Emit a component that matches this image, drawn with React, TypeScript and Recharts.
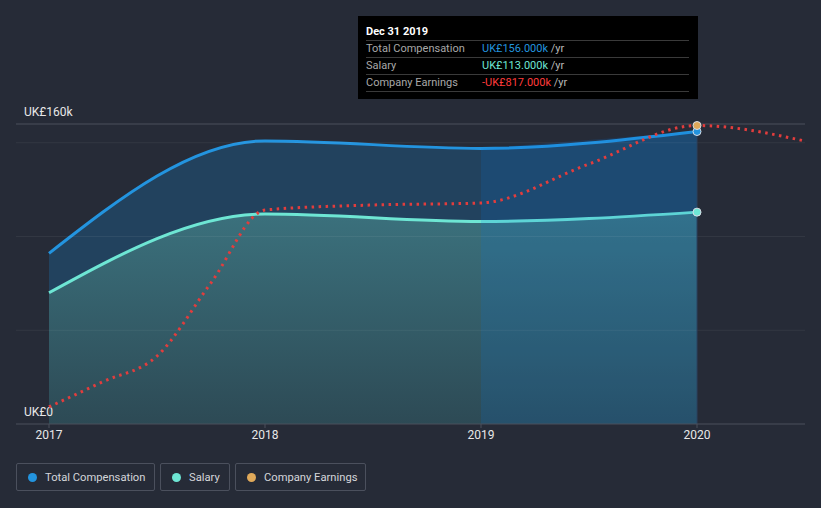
import React from 'react';
import { ComposedChart, Area, Line, XAxis, YAxis, ReferenceLine } from 'recharts';

// fiscal year ends (Dec 31 of previous year) plotted at the year tick
const years = [2017, 2018, 2019, 2020];
const totalComp = [91, 151, 147, 156]; // UK£k
const salary = [70, 112, 108, 113]; // UK£k

// company earnings, UK£k
const earningsX = [2017, 2017.25, 2017.5, 2017.75, 2018, 2018.5, 2019, 2019.5, 2020, 2020.5];
const earnings = [-4007, -3720, -3430, -2600, -1775, -1718, -1695, -1253, -817, -993];

const xTicks = [2017, 2018, 2019, 2020];
const gridValues = [50, 100, 150];

const BG = '#262b37';
const BLUE = '#2394df';
const TEAL = '#6ee6d4';
const RED = '#e23d3d';
const ORANGE = '#e0a95a';

const allX = Array.from(new Set([...years, ...earningsX])).sort((a, b) => a - b);
const data = allX.map((x) => {
  const yi = years.indexOf(x);
  const ei = earningsX.indexOf(x);
  return {
    x,
    total: yi >= 0 ? totalComp[yi] : null,
    salary: yi >= 0 ? salary[yi] : null,
    highlight: yi >= 2 ? totalComp[yi] : null,
    earnings: ei >= 0 ? earnings[ei] : null,
  };
});

const endDot = (color: string) => (props: any) => {
  const { cx, cy, payload, index } = props;
  if (payload.x !== 2020 || cy == null) return <g key={index} />;
  return <circle key={index} cx={cx} cy={cy} r={4} fill={color} stroke="#d8dde6" strokeWidth={1} />;
};

const yLabel = (text: string, dy: number) => (props: any) => {
  const { viewBox } = props;
  return (
    <text x={viewBox.x + 8} y={viewBox.y + dy} fill="#e8e8e8" fontSize={12} fontFamily="Roboto">
      {text}
    </text>
  );
};

const legendItems = [
  { name: 'Total Compensation', color: BLUE, width: 139 },
  { name: 'Salary', color: TEAL, width: 70 },
  { name: 'Company Earnings', color: ORANGE, width: 131 },
];

const rows = [
  { label: 'Total Compensation', value: 'UK£156.000k', color: BLUE },
  { label: 'Salary', value: 'UK£113.000k', color: TEAL },
  { label: 'Company Earnings', value: '-UK£817.000k', color: '#ff3b3b' },
];

export default function App() {
  return (
    <div style={{ position: 'relative', width: 821, height: 508, background: BG, fontFamily: 'Roboto, sans-serif', overflow: 'hidden' }}>
      <style>{`body{margin:0}`}</style>
      <ComposedChart width={821} height={460} data={data} margin={{ top: 124, right: 16, bottom: 6, left: 16 }}>
        <defs>
          <linearGradient id="salFill" x1="0" y1="0" x2="0" y2="1">
            <stop offset="0%" stopColor="#3b717d" />
            <stop offset="100%" stopColor="#2d4a55" />
          </linearGradient>
        </defs>
        <XAxis
          dataKey="x"
          type="number"
          domain={[2016.8472, 2020.5]}
          ticks={xTicks}
          allowDataOverflow
          height={30}
          stroke="#4b505d"
          tickSize={4}
          tick={{ fill: '#e8e8e8', fontSize: 12, fontFamily: 'Roboto' }}
        />
        <YAxis yAxisId="v" hide domain={[0, 160]} />
        <YAxis yAxisId="e" hide domain={[-4200, -800]} />
        <ReferenceLine yAxisId="v" y={160} stroke="#4b505d" strokeWidth={1} label={yLabel('UK£160k', -8)} />
        <ReferenceLine yAxisId="v" y={0} stroke="none" label={yLabel('UK£0', -8)} />
        <Area
          yAxisId="v"
          type="monotone"
          dataKey="total"
          connectNulls
          stroke={BLUE}
          strokeWidth={3}
          fill="#22425e"
          fillOpacity={1}
          dot={endDot(BLUE)}
          activeDot={false}
          isAnimationActive={false}
        />
        <Area
          yAxisId="v"
          type="monotone"
          dataKey="salary"
          connectNulls
          stroke={TEAL}
          strokeWidth={3}
          fill="url(#salFill)"
          fillOpacity={1}
          dot={false}
          activeDot={false}
          isAnimationActive={false}
        />
        <Area
          yAxisId="v"
          type="monotone"
          dataKey="highlight"
          connectNulls
          stroke="none"
          fill="#0777e3"
          fillOpacity={0.16}
          dot={false}
          activeDot={false}
          isAnimationActive={false}
        />
        {gridValues.map((g) => (
          <ReferenceLine key={g} yAxisId="v" y={g} stroke="#ffffff" strokeOpacity={0.06} strokeWidth={1} />
        ))}
        <ReferenceLine yAxisId="v" x={2020} stroke="#2a4260" strokeWidth={1} />
        <Line
          yAxisId="e"
          type="monotone"
          dataKey="earnings"
          connectNulls
          stroke={RED}
          strokeWidth={3}
          strokeDasharray="2.5 4.5"
          dot={endDot(ORANGE)}
          activeDot={false}
          isAnimationActive={false}
        />
        <Line
          yAxisId="v"
          type="monotone"
          dataKey="salary"
          connectNulls
          stroke="none"
          dot={endDot(TEAL)}
          activeDot={false}
          isAnimationActive={false}
        />
      </ComposedChart>

      <div
        style={{
          position: 'absolute',
          left: 358,
          top: 16,
          width: 340,
          height: 83,
          background: '#000',
          boxSizing: 'border-box',
          padding: '8px 8px 0 8px',
          fontSize: 11,
        }}
      >
        <div style={{ color: '#fff', fontWeight: 'bold', height: 16, lineHeight: '15px' }}>Dec 31 2019</div>
        {rows.map((r) => (
          <div
            key={r.label}
            style={{ display: 'flex', borderTop: '1px solid #3a3a3a', height: 16, lineHeight: '16px', width: 323 }}
          >
            <span style={{ color: '#a8a8a8', width: 116 }}>{r.label}</span>
            <span style={{ color: r.color }}>{r.value}</span>
            <span style={{ color: '#b8b8b8' }}>&nbsp;/yr</span>
          </div>
        ))}
        <div style={{ borderTop: '1px solid #3a3a3a', width: 323 }} />
      </div>

      <div style={{ position: 'absolute', left: 16, top: 463, display: 'flex', gap: 5 }}>
        {legendItems.map((l) => (
          <div
            key={l.name}
            style={{
              width: l.width,
              height: 28,
              boxSizing: 'border-box',
              border: '1px solid #4b505d',
              borderRadius: 2,
              display: 'flex',
              alignItems: 'center',
              paddingLeft: 11,
              fontSize: 11.2,
              color: '#d4d6da',
              whiteSpace: 'nowrap',
            }}
          >
            <span style={{ width: 9, height: 9, borderRadius: '50%', background: l.color, marginRight: 8, display: 'inline-block', flexShrink: 0 }} />
            {l.name}
          </div>
        ))}
      </div>
    </div>
  );
}
